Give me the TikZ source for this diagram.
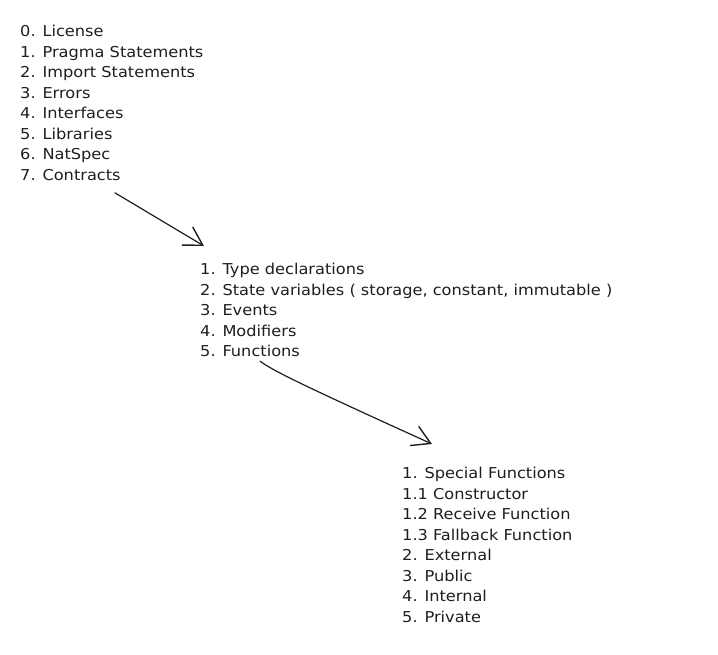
\documentclass[tikz,border=0pt]{standalone}
\usepackage{fontspec}
\setmainfont{DejaVu Sans}[FakeStretch=1.08]
\usetikzlibrary{arrows.meta}
\definecolor{ink}{RGB}{30,30,30}

\begin{document}
\begin{tikzpicture}[x=1pt, y=-1pt,
        list/.style={anchor=north west, align=left, inner sep=0pt, text=ink,
            font=\fontsize{15}{20.55}\selectfont},
        arr/.style={draw=ink, line width=1.2pt, line cap=round,
            -{Straight Barb[length=18pt, width=21pt, line width=1.4pt]}}]
        \useasboundingbox (0,0) rectangle (718,655);

        % lists
        \node[list] (order) at (20,25) {0. License\\1. Pragma Statements\\2. Import Statements\\3. Errors\\4. Interfaces\\5. Libraries\\6. NatSpec\\7. Contracts};
        \node[list] (contract) at (200,263) {1. Type declarations\\2. State variables ( storage, constant, immutable )\\3. Events\\4. Modifiers\\5. Functions};
        \node[list] (funcs) at (402,467) {1. Special Functions\\1.1 Constructor\\1.2 Receive Function\\1.3 Fallback Function\\2. External\\3. Public\\4. Internal\\5. Private};

        % arrows
        \draw[arr] ([shift={(95pt,-12pt)}]order.south west) -- ([shift={(4pt,17pt)}]contract.north west);
        \draw[arr] ([shift={(60pt,-4pt)}]contract.south west) .. controls +(14,10) and +(-132,-60) .. ([shift={(30pt,23pt)}]funcs.north west);
    \end{tikzpicture}
\end{document}
